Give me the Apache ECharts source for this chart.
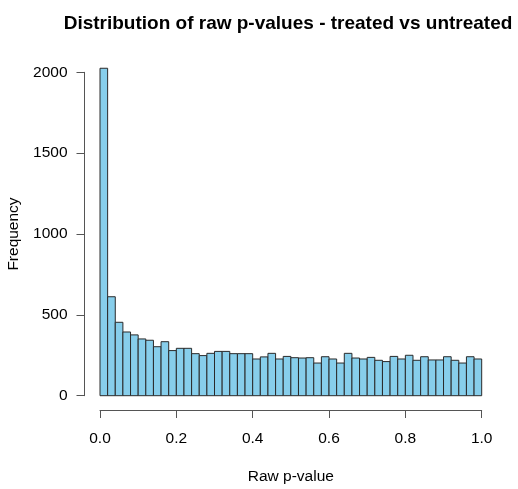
<!DOCTYPE html>
<html>
<head>
<meta charset="utf-8">
<script src="https://cdn.jsdelivr.net/npm/echarts@6/dist/echarts.min.js"></script>
<style>html,body{margin:0;padding:0;background:#fff}#c{width:518px;height:489px}</style>
</head>
<body>
<div id="c"></div>
<script>
var titleText = 'Distribution of raw p-values - treated vs untreated';
var xName = 'Raw p-value';
var yName = 'Frequency';
var binStarts = [0.00,0.02,0.04,0.06,0.08,0.10,0.12,0.14,0.16,0.18,
                 0.20,0.22,0.24,0.26,0.28,0.30,0.32,0.34,0.36,0.38,
                 0.40,0.42,0.44,0.46,0.48,0.50,0.52,0.54,0.56,0.58,
                 0.60,0.62,0.64,0.66,0.68,0.70,0.72,0.74,0.76,0.78,
                 0.80,0.82,0.84,0.86,0.88,0.90,0.92,0.94,0.96,0.98];
var binWidth = 0.02;
var counts = [2025,612,454,394,376,351,343,303,334,279,
              293,293,260,248,262,274,274,260,260,260,
              227,240,262,227,243,235,233,235,202,241,
              227,202,262,233,227,237,219,211,243,227,
              250,219,241,221,221,241,219,202,241,227];
var xTicks = [0, 0.2, 0.4, 0.6, 0.8, 1.0];
var yTicks = [0, 500, 1000, 1500, 2000];

var data = binStarts.map(function(s, i){ return [s, s + binWidth, counts[i]]; });
var chart = echarts.init(document.getElementById('c'), null, {renderer:'canvas'});
var font = 'Liberation Sans, Arial, Helvetica, sans-serif';
chart.setOption({
  animation: false,
  backgroundColor: '#fff',
  title: {
    text: titleText, left: 283, top: 9, textAlign: 'center',
    textStyle: {fontFamily: font, fontSize: 19, fontWeight: 'bold', color: '#000'}
  },
  grid: {left: 100, right: 36.3, top: 72.3, bottom: 93.3, containLabel: false, outerBoundsMode: 'none'},
  xAxis: {
    type: 'value', min: 0, max: 1, interval: 0.2,
    position: 'bottom', offset: 14.3,
    name: xName, nameLocation: 'middle', nameGap: 59,
    nameTextStyle: {fontFamily: font, fontSize: 15.5, color: '#000'},
    axisLine: {show: true, onZero: false, lineStyle: {color: '#555', width: 1}},
    axisTick: {show: true, length: 8, inside: false, lineStyle: {color: '#555'}},
    axisLabel: {fontFamily: font, fontSize: 15.5, color: '#000', margin: 21,
      formatter: function(v){ return v.toFixed(1); }},
    splitLine: {show: false}
  },
  yAxis: {
    type: 'value', min: 0, max: 2000, interval: 500,
    position: 'left', offset: 15.5,
    name: yName, nameLocation: 'middle', nameGap: 53, nameRotate: 90,
    nameTextStyle: {fontFamily: font, fontSize: 15.5, color: '#000'},
    axisLine: {show: true, onZero: false, lineStyle: {color: '#555', width: 1}},
    axisTick: {show: true, length: 8, lineStyle: {color: '#555'}},
    axisLabel: {fontFamily: font, fontSize: 15.5, color: '#000', margin: 17,
      formatter: function(v){ return String(v); }},
    splitLine: {show: false}
  },
  series: [{
    type: 'custom',
    clip: false,
    data: data,
    encode: {x: [0, 1], y: 2},
    renderItem: function(params, api){
      var p0 = api.coord([api.value(0), api.value(2)]);
      var p1 = api.coord([api.value(1), 0]);
      return {
        type: 'rect',
        shape: {x: p0[0], y: p0[1], width: p1[0] - p0[0], height: p1[1] - p0[1]},
        style: {fill: '#87CEEB', stroke: '#2a2a2a', lineWidth: 1}
      };
    }
  }]
});
</script>
</body>
</html>
